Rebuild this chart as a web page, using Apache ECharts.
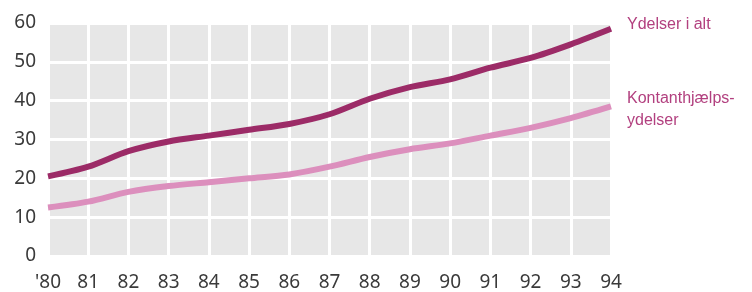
<!DOCTYPE html>
<html>
<head>
<meta charset="utf-8">
<script src="https://cdn.jsdelivr.net/npm/echarts@6/dist/echarts.min.js"></script>
<style>html,body{margin:0;padding:0;background:#fff}#c{width:752px;height:292px}</style>
</head>
<body>
<div id="c"></div>
<script>
const categories = ["'80","81","82","83","84","85","86","87","88","89","90","91","92","93","94"];
const ydelserIAlt = [20.5,23,27,29.5,31,32.5,34,36.5,40.5,43.5,45.5,48.5,51,54.5,58.5];
const kontant = [12.5,14,16.5,18,19,20,21,23,25.5,27.5,29,31,33,35.5,38.5];
const yTicks = [0,10,20,30,40,50,60];
const seriesNames = ['Ydelser i alt', 'Kontanthjælps-\nydelser'];

const chart = echarts.init(document.getElementById('c'));
chart.setOption({
  animation: false,
  backgroundColor: '#fff',
  grid: { left: 48, right: 141, top: 23, bottom: 35, show: true, backgroundColor: '#e7e7e7', borderWidth: 0 },
  xAxis: {
    type: 'category', data: categories, boundaryGap: false,
    axisLine: { show: false }, axisTick: { show: false },
    axisLabel: { margin: 17, fontSize: 19, color: '#3a3a3a', fontFamily: 'Noto Sans' },
    splitLine: { show: true, lineStyle: { color: '#fff', width: 3 } }
  },
  yAxis: {
    type: 'value', min: yTicks[0], max: yTicks[yTicks.length-1], interval: 10,
    axisLine: { show: false }, axisTick: { show: false },
    axisLabel: { margin: 12, fontSize: 19, color: '#3a3a3a', fontFamily: 'Noto Sans' },
    splitLine: { show: true, lineStyle: { color: '#fff', width: 3 } }
  },
  series: [
    {
      name: seriesNames[0], type: 'line', data: ydelserIAlt, smooth: 0.3, symbol: 'none',
      lineStyle: { color: '#9c2b67', width: 6 },
      endLabel: { show: true, formatter: seriesNames[0], color: '#b2407f', fontSize: 16,
        fontFamily: 'Liberation Sans', offset: [8, -4] }
    },
    {
      name: seriesNames[1], type: 'line', data: kontant, smooth: 0.3, symbol: 'none',
      lineStyle: { color: '#dc8fbd', width: 6 },
      endLabel: { show: true, formatter: seriesNames[1], color: '#b2407f', fontSize: 16,
        fontFamily: 'Liberation Sans', lineHeight: 22, offset: [8, 3] }
    }
  ]
});
</script>
</body>
</html>
